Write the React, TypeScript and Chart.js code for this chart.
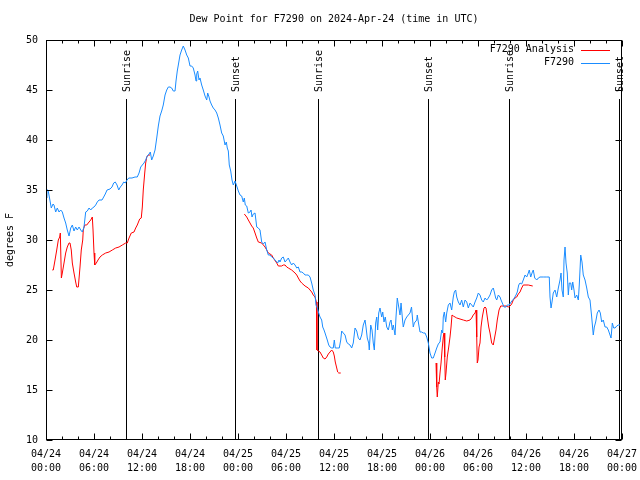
import React, { useEffect, useRef } from 'react';
import { Chart, registerables } from 'chart.js';

Chart.register(...registerables);

const TITLE = 'Dew Point for F7290 on 2024-Apr-24 (time in UTC)';
const Y_LABEL = 'degrees F';
const FONT = '"DejaVu Sans Mono", monospace';

// x values: hours since 04/24 00:00 UTC
const X_MIN = 0;
const X_MAX = 72;
const Y_MIN = 10;
const Y_MAX = 50;
const xTickDates = ['04/24', '04/24', '04/24', '04/24', '04/25', '04/25', '04/25', '04/25', '04/26', '04/26', '04/26', '04/26', '04/27'];
const xTickTimes = ['00:00', '06:00', '12:00', '18:00', '00:00', '06:00', '12:00', '18:00', '00:00', '06:00', '12:00', '18:00', '00:00'];

const sunEventHours = [10.05, 23.67, 34.04, 47.7, 57.9, 71.66];
const sunEventLabels = ['Sunrise', 'Sunset', 'Sunrise', 'Sunset', 'Sunrise', 'Sunset'];
const SUN_LINE_TOP = 44.1; // degrees F where the marker line starts
const SUN_LABEL_BASE = 44.8;

const seriesLabels = ['F7290 Analysis', 'F7290'];
const seriesColors = ['#ff0000', '#1a8cff'];

// [hour, dew point F]
const observed = [
  [0.02, 34.2], [0.12, 35.0], [0.25, 35.0], [0.44, 34.2], [0.66, 33.2], [0.88, 33.6], [1.0, 33.5], [1.21, 32.8], [1.41, 33.2], [1.63, 32.8],
  [1.84, 33.0], [2.04, 32.8], [2.25, 32.2], [2.46, 31.7], [2.66, 31.0], [2.88, 30.4], [3.09, 31.2], [3.29, 31.5], [3.5, 30.9], [3.71, 31.3],
  [3.91, 31.0], [4.13, 31.3], [4.34, 31.0], [4.54, 30.8], [4.75, 31.3], [4.96, 32.8], [5.16, 32.9], [5.38, 33.2], [5.59, 33.0], [5.79, 33.2],
  [6.0, 33.3], [6.21, 33.5], [6.41, 33.8], [6.63, 34.0], [7.0, 34.0], [7.21, 34.3], [7.41, 34.6], [7.63, 35.0], [8.0, 35.1], [8.25, 35.3],
  [8.46, 35.7], [8.66, 35.8], [8.88, 35.5], [9.09, 35.0], [9.29, 35.3], [9.5, 35.5], [9.71, 35.8], [9.91, 35.7], [10.13, 36.0], [10.34, 36.2],
  [10.75, 36.2], [11.13, 36.3], [11.41, 36.3], [11.63, 36.7], [11.84, 37.3], [12.04, 37.5], [12.25, 37.7], [12.46, 38.0], [12.66, 38.4], [12.88, 38.6],
  [13.04, 38.8], [13.21, 38.0], [13.41, 38.4], [13.63, 39.0], [13.84, 40.2], [14.04, 41.4], [14.25, 42.4], [14.46, 42.9], [14.66, 43.5], [14.88, 44.5],
  [15.09, 45.0], [15.29, 45.3], [15.5, 45.3], [15.71, 45.2], [15.91, 44.9], [16.13, 44.9], [16.25, 45.9], [16.41, 46.9], [16.54, 47.5], [16.75, 48.5],
  [16.96, 49.0], [17.16, 49.4], [17.38, 49.0], [17.59, 48.5], [17.79, 48.2], [18.0, 47.4], [18.21, 47.4], [18.41, 47.2], [18.63, 46.5], [18.75, 45.9],
  [18.84, 46.6], [18.96, 46.9], [19.13, 46.0], [19.25, 46.2], [19.46, 45.5], [19.66, 45.0], [19.88, 44.4], [20.09, 44.0], [20.21, 44.7], [20.38, 44.3],
  [20.5, 43.9], [20.71, 43.5], [20.91, 43.2], [21.13, 43.0], [21.34, 42.7], [21.54, 42.2], [21.75, 41.5], [21.96, 40.7], [22.16, 40.4], [22.38, 39.5],
  [22.54, 39.8], [22.66, 39.2], [22.79, 38.9], [22.91, 37.5], [23.09, 36.9], [23.25, 36.0], [23.41, 35.5], [23.63, 35.9], [23.84, 35.4], [24.04, 34.9],
  [24.25, 34.5], [24.46, 34.4], [24.66, 33.8], [24.79, 34.2], [24.91, 33.5], [25.09, 33.4], [25.29, 32.7], [25.5, 32.8], [25.63, 33.0], [25.75, 32.3],
  [25.91, 32.6], [26.13, 32.7], [26.34, 31.3], [26.54, 31.2], [26.75, 31.0], [26.96, 29.8], [27.16, 29.6], [27.38, 29.8], [27.59, 29.0], [27.79, 28.5],
  [28.0, 28.5], [28.21, 28.3], [28.41, 28.2], [28.63, 28.0], [28.84, 27.8], [28.96, 27.7], [29.13, 28.0], [29.25, 27.8], [29.46, 28.2], [29.66, 28.3],
  [29.88, 27.8], [30.09, 28.0], [30.29, 28.2], [30.5, 27.8], [30.71, 27.5], [30.91, 27.7], [31.13, 27.5], [31.34, 27.2], [31.54, 27.3], [31.75, 26.8],
  [31.96, 26.8], [32.16, 26.7], [32.38, 26.5], [32.59, 26.5], [32.79, 26.5], [33.0, 26.3], [33.21, 25.7], [33.41, 25.0], [33.63, 24.5], [33.75, 23.5],
  [33.91, 23.2], [34.09, 22.7], [34.25, 22.3], [34.46, 22.0], [34.59, 21.3], [34.75, 21.0], [34.88, 20.7], [35.16, 20.0], [35.34, 19.5], [35.5, 19.3],
  [35.71, 19.2], [35.91, 19.2], [36.04, 20.0], [36.16, 19.2], [36.41, 19.2], [36.66, 19.2], [36.84, 20.0], [36.96, 20.9], [37.16, 20.7], [37.38, 20.5],
  [37.59, 19.8], [37.79, 19.6], [38.0, 19.5], [38.21, 19.2], [38.41, 19.7], [38.63, 21.2], [38.84, 20.9], [39.04, 20.2], [39.25, 20.0], [39.46, 20.5],
  [39.66, 21.5], [39.88, 22.0], [40.0, 21.3], [40.16, 20.2], [40.34, 19.7], [40.41, 19.0], [40.59, 21.5], [40.75, 21.0], [40.91, 19.7], [41.04, 19.0],
  [41.21, 21.7], [41.34, 22.3], [41.46, 21.0], [41.59, 22.7], [41.75, 23.2], [41.96, 22.3], [42.09, 22.8], [42.25, 21.8], [42.41, 22.3], [42.59, 21.3],
  [42.79, 21.0], [43.0, 21.8], [43.13, 22.0], [43.29, 21.0], [43.41, 21.5], [43.63, 20.5], [43.75, 22.3], [43.91, 24.2], [44.09, 23.3], [44.25, 22.5],
  [44.38, 23.7], [44.59, 21.8], [44.66, 21.3], [44.88, 22.0], [45.09, 22.3], [45.29, 22.5], [45.5, 22.7], [45.69, 23.3], [45.91, 21.3], [46.04, 21.7],
  [46.34, 22.0], [46.41, 22.5], [46.54, 21.8], [46.75, 20.8], [46.96, 20.8], [47.16, 20.7], [47.38, 20.7], [47.59, 20.3], [47.79, 19.7], [48.0, 18.7],
  [48.21, 18.2], [48.41, 18.2], [48.63, 18.7], [48.84, 19.2], [49.04, 19.6], [49.25, 19.8], [49.46, 21.0], [49.59, 20.7], [49.66, 22.3], [49.79, 22.8],
  [49.96, 21.8], [50.09, 22.7], [50.29, 23.5], [50.5, 23.7], [50.71, 23.0], [50.91, 24.3], [51.04, 24.8], [51.21, 25.0], [51.34, 24.3], [51.54, 23.8],
  [51.75, 23.5], [51.96, 24.0], [52.16, 23.3], [52.38, 24.0], [52.59, 23.8], [52.79, 23.2], [53.0, 23.7], [53.21, 23.5], [53.41, 23.3], [53.63, 23.8],
  [53.84, 24.2], [54.04, 24.7], [54.25, 24.5], [54.46, 24.0], [54.66, 23.8], [54.88, 24.2], [55.09, 24.0], [55.29, 24.2], [55.5, 24.5], [55.71, 25.0],
  [55.91, 25.2], [56.04, 24.8], [56.21, 24.2], [56.34, 24.0], [56.54, 24.5], [56.75, 24.3], [56.88, 24.0], [57.04, 23.7], [57.25, 23.3], [57.5, 23.3],
  [57.66, 23.5], [57.91, 23.5], [58.13, 23.8], [58.34, 24.0], [58.54, 24.2], [58.75, 24.5], [58.91, 24.8], [59.09, 25.5], [59.25, 25.7], [59.46, 25.6],
  [59.66, 26.0], [59.88, 26.5], [60.09, 26.3], [60.29, 26.7], [60.41, 27.0], [60.59, 26.3], [60.75, 26.7], [60.91, 27.0], [61.09, 26.2], [61.34, 26.0],
  [61.54, 26.2], [61.75, 26.3], [62.16, 26.3], [62.59, 26.3], [62.91, 26.3], [63.0, 24.3], [63.13, 23.2], [63.25, 23.8], [63.41, 24.7], [63.63, 25.0],
  [63.84, 24.3], [64.04, 25.2], [64.25, 26.0], [64.38, 26.7], [64.5, 25.0], [64.66, 24.3], [64.75, 28.0], [64.88, 29.3], [65.0, 27.7], [65.16, 26.7],
  [65.29, 24.5], [65.41, 25.7], [65.59, 25.7], [65.71, 25.0], [65.84, 25.8], [66.0, 25.0], [66.13, 24.2], [66.34, 24.5], [66.54, 24.0], [66.66, 25.5],
  [66.84, 28.5], [67.0, 27.8], [67.16, 26.5], [67.38, 26.0], [67.59, 25.2], [67.79, 24.3], [68.0, 24.0], [68.21, 22.3], [68.41, 20.5], [68.54, 21.3],
  [68.71, 21.8], [68.91, 22.7], [69.13, 23.0], [69.29, 22.7], [69.46, 21.8], [69.66, 22.0], [69.88, 21.3], [70.09, 21.3], [70.29, 21.0], [70.5, 20.5],
  [70.63, 20.2], [70.79, 21.7], [70.96, 21.2], [71.13, 21.2], [71.34, 21.4], [71.54, 21.5], [71.75, 21.5],
];

// [hour, dew point F]; null marks a gap in the analysis
const analysis = [
  [0.79, 27.0], [0.91, 27.0], [1.13, 28.0], [1.34, 29.0], [1.54, 30.0], [1.71, 30.3], [1.79, 30.7], [1.92, 26.2], [2.04, 26.7], [2.25, 27.7],
  [2.46, 28.7], [2.66, 29.3], [2.88, 29.7], [3.0, 29.7], [3.16, 29.0], [3.29, 27.7], [3.5, 26.7], [3.71, 25.8], [3.84, 25.3], [4.04, 25.3],
  [4.25, 27.3], [4.41, 29.0], [4.59, 30.0], [4.66, 31.0], [4.84, 31.5], [5.09, 31.5], [5.38, 31.8], [5.59, 32.0], [5.79, 32.3], [5.88, 31.0],
  [6.0, 28.7], [6.09, 27.5], [6.29, 27.7], [6.5, 28.0], [6.75, 28.3], [7.04, 28.5], [7.46, 28.7], [7.88, 28.8], [8.29, 29.0], [8.71, 29.2],
  [9.13, 29.3], [9.54, 29.5], [9.96, 29.7], [10.16, 29.7], [10.38, 30.2], [10.66, 30.7], [11.0, 30.8], [11.21, 31.2], [11.41, 31.5], [11.71, 32.1],
  [11.91, 32.2], [12.04, 33.3], [12.16, 35.0], [12.34, 36.7], [12.46, 37.7], [12.59, 38.3], [12.79, 38.5], [13.0, 38.5],
  [18.0, null],
  [24.79, 32.6], [25.09, 32.3], [25.29, 32.0], [25.5, 31.7], [25.71, 31.4], [25.91, 31.2], [26.13, 30.7], [26.34, 30.2], [26.54, 29.8], [26.96, 29.7],
  [27.38, 29.3], [27.59, 29.0], [27.79, 28.7], [28.21, 28.5], [28.41, 28.2], [28.84, 27.7], [29.04, 27.4], [29.46, 27.4], [29.66, 27.5], [29.88, 27.5],
  [30.09, 27.3], [30.29, 27.2], [30.71, 27.0], [31.13, 26.7], [31.34, 26.5], [31.54, 26.2], [31.75, 25.9], [31.96, 25.7], [32.38, 25.4], [32.79, 25.2],
  [33.0, 25.0], [33.21, 24.8], [33.41, 24.5], [33.63, 24.3], [33.8, 23.8], [33.87, 19.0], [34.25, 18.8], [34.46, 18.5], [34.66, 18.2], [34.88, 18.1],
  [35.09, 18.3], [35.29, 18.6], [35.5, 18.8], [35.71, 19.0], [35.91, 18.8], [36.04, 18.4], [36.16, 17.8], [36.34, 17.2], [36.46, 16.8], [36.59, 16.7],
  [36.84, 16.7],
  [42.0, null],
  [48.75, 17.7], [48.84, 15.3], [48.91, 14.3], [49.04, 15.8], [49.13, 15.6], [49.25, 16.7], [49.38, 17.7], [49.54, 19.3], [49.66, 20.3], [49.75, 20.7],
  [49.84, 18.3], [49.91, 16.0], [50.0, 16.7], [50.16, 18.3], [50.34, 19.3], [50.5, 20.3], [50.63, 21.3], [50.75, 22.5], [50.91, 22.4], [51.13, 22.3],
  [51.34, 22.2], [51.75, 22.1], [52.16, 22.0], [52.59, 21.9], [53.0, 22.0], [53.21, 22.2], [53.41, 22.5], [53.63, 22.7], [53.75, 23.0], [53.84, 20.3],
  [53.91, 17.7], [54.0, 18.0], [54.13, 19.3], [54.25, 19.7], [54.38, 21.3], [54.54, 22.3], [54.75, 23.2], [54.88, 23.3], [55.0, 23.2], [55.16, 22.3],
  [55.34, 21.3], [55.5, 20.7], [55.71, 19.7], [55.91, 19.5], [56.09, 20.3], [56.25, 21.0], [56.41, 22.0], [56.63, 23.0], [56.84, 23.4], [57.16, 23.4],
  [57.5, 23.4], [57.79, 23.3], [58.0, 23.4], [58.21, 23.6], [58.41, 24.0], [58.63, 24.2], [58.84, 24.3], [59.04, 24.6], [59.25, 24.8], [59.46, 25.2],
  [59.66, 25.5], [60.29, 25.5], [60.84, 25.4],
];

const gnuplotPlugin = {
  id: 'gnuplotDecor',
  beforeDatasetsDraw(chart: any) {
    const { ctx, chartArea: a, scales } = chart;
    const x = scales.x;
    const y = scales.y;
    ctx.save();
    ctx.strokeStyle = '#000';
    ctx.fillStyle = '#000';
    ctx.lineWidth = 1;
    ctx.font = `10px ${FONT}`;
    sunEventHours.forEach((h, i) => {
      const px = Math.round(x.getPixelForValue(h)) + 0.5;
      const top = Math.round(y.getPixelForValue(SUN_LINE_TOP));
      ctx.beginPath();
      ctx.moveTo(px, top);
      ctx.lineTo(px, a.bottom);
      ctx.stroke();
      ctx.save();
      ctx.translate(px + 1, y.getPixelForValue(SUN_LABEL_BASE));
      ctx.rotate(-Math.PI / 2);
      ctx.textAlign = 'left';
      ctx.textBaseline = 'middle';
      ctx.fillText(sunEventLabels[i], 0, 0);
      ctx.restore();
    });
    ctx.restore();
  },
  afterDraw(chart: any) {
    const { ctx, chartArea: a, scales } = chart;
    const x = scales.x;
    const y = scales.y;
    ctx.save();
    ctx.strokeStyle = '#000';
    ctx.lineWidth = 1;
    const L = a.left + 0.5;
    const R = a.right - 0.5;
    const T = a.top + 0.5;
    const B = a.bottom - 0.5;
    ctx.strokeRect(L, T, R - L, B - T);
    ctx.beginPath();
    for (let h = X_MIN; h <= X_MAX; h += 2) {
      const len = h % 6 === 0 ? 6 : 3;
      const px = Math.round(x.getPixelForValue(h)) + 0.5;
      ctx.moveTo(px, B);
      ctx.lineTo(px, B - len);
      ctx.moveTo(px, T);
      ctx.lineTo(px, T + len);
    }
    for (let v = Y_MIN; v <= Y_MAX; v += 5) {
      const py = Math.round(y.getPixelForValue(v)) + 0.5;
      ctx.moveTo(L, py);
      ctx.lineTo(L + 6, py);
      ctx.moveTo(R, py);
      ctx.lineTo(R - 6, py);
    }
    ctx.stroke();

    // legend (gnuplot style: text then line sample, top right inside the frame)
    ctx.font = `10px ${FONT}`;
    ctx.fillStyle = '#000';
    ctx.textAlign = 'right';
    ctx.textBaseline = 'middle';
    seriesLabels.forEach((label, i) => {
      const cy = a.top + 9.5 + i * 13;
      ctx.fillText(label, a.right - 48, cy);
      ctx.strokeStyle = seriesColors[i];
      ctx.beginPath();
      ctx.moveTo(a.right - 41, Math.round(cy) + 0.5);
      ctx.lineTo(a.right - 12, Math.round(cy) + 0.5);
      ctx.stroke();
    });
    ctx.restore();
  },
};

export default function App() {
  const canvasRef = useRef<HTMLCanvasElement | null>(null);

  useEffect(() => {
    const canvas = canvasRef.current;
    if (!canvas) return;
    Chart.defaults.font.family = FONT;
    Chart.defaults.font.size = 10;
    Chart.defaults.color = '#000';

    const toPoints = (rows: any[]) => rows.map((r) => ({ x: r[0], y: r[1] }));

    const chart = new Chart(canvas, {
      type: 'line',
      data: {
        datasets: [
          {
            label: seriesLabels[0],
            data: toPoints(analysis),
            borderColor: seriesColors[0],
            backgroundColor: seriesColors[0],
            borderWidth: 1,
            pointRadius: 0,
            tension: 0,
            spanGaps: false,
            order: 1,
          },
          {
            label: seriesLabels[1],
            data: toPoints(observed),
            borderColor: seriesColors[1],
            backgroundColor: seriesColors[1],
            borderWidth: 1,
            pointRadius: 0,
            tension: 0,
            order: 0,
          },
        ],
      },
      options: {
        responsive: false,
        animation: false,
        events: [],
        layout: { padding: { left: 0, right: 18, top: 0, bottom: 0 } },
        plugins: {
          legend: { display: false },
          tooltip: { enabled: false },
          title: {
            display: true,
            text: TITLE,
            fullSize: false,
            color: '#000',
            font: { family: FONT, size: 10, weight: 'normal', lineHeight: 1.2 },
            padding: { top: 13, bottom: 15 },
          },
        },
        scales: {
          x: {
            type: 'linear',
            min: X_MIN,
            max: X_MAX,
            grid: { display: false, drawTicks: false },
            border: { display: false },
            ticks: {
              stepSize: 6,
              autoSkip: false,
              maxRotation: 0,
              minRotation: 0,
              padding: 7,
              color: '#000',
              font: { family: FONT, size: 10, lineHeight: 1.4 },
              callback: (value: any) => {
                const i = Math.round(Number(value) / 6);
                return [xTickDates[i], xTickTimes[i]];
              },
            },
            afterFit: (scale: any) => {
              scale.height = 40;
              scale.paddingLeft = 0;
              scale.paddingRight = 0;
            },
          },
          y: {
            type: 'linear',
            min: Y_MIN,
            max: Y_MAX,
            grid: { display: false, drawTicks: false },
            border: { display: false },
            title: {
              display: true,
              text: Y_LABEL,
              color: '#000',
              font: { family: FONT, size: 10, lineHeight: 1.2 },
              padding: { top: 4, bottom: 0 },
            },
            ticks: {
              stepSize: 5,
              padding: 8,
              color: '#000',
              font: { family: FONT, size: 10 },
              callback: (value: any) => String(value),
            },
            afterFit: (scale: any) => {
              scale.width = 46;
              scale.paddingTop = 0;
              scale.paddingBottom = 0;
            },
          },
        },
      },
      plugins: [gnuplotPlugin],
    } as any);

    return () => {
      chart.destroy();
    };
  }, []);

  return (
    <div style={{ position: 'fixed', left: 0, top: 0, width: 640, height: 480, background: '#fff' }}>
      <canvas ref={canvasRef} width={640} height={480} style={{ width: 640, height: 480 }} />
    </div>
  );
}
